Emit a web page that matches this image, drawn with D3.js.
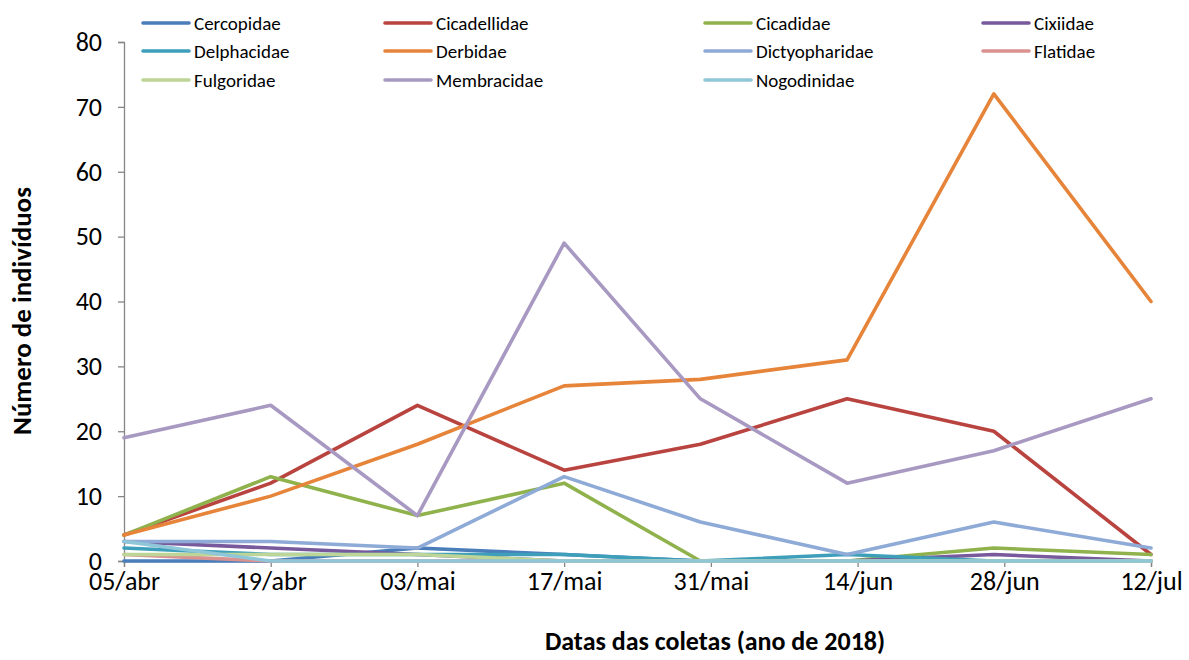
<!DOCTYPE html>
<html>
<head>
    <meta charset="utf-8">
    <title>Número de indivíduos por família</title>
    <script src="https://cdnjs.cloudflare.com/ajax/libs/d3/7.8.5/d3.min.js"></script>
    <style>
        body { margin: 0; background: #fff; }
        text { font-family: Carlito, Calibri, Lato, sans-serif; fill: #000; }
    </style>
</head>
<body>
    <div id="chart"></div>
    <script>
        // collection dates (actual) and axis tick dates / labels
        const dates = ['2018-04-05', '2018-04-19', '2018-05-03', '2018-05-17', '2018-05-30', '2018-06-13', '2018-06-27', '2018-07-12'];
        const tickDates = ['2018-04-05', '2018-04-19', '2018-05-03', '2018-05-17', '2018-05-31', '2018-06-14', '2018-06-28', '2018-07-12'];
        const tickLabels = ['05/abr', '19/abr', '03/mai', '17/mai', '31/mai', '14/jun', '28/jun', '12/jul'];
        const yTicks = [0, 10, 20, 30, 40, 50, 60, 70, 80];

        const families = ['Cercopidae', 'Cicadellidae', 'Cicadidae', 'Cixiidae', 'Delphacidae', 'Derbidae',
                          'Dictyopharidae', 'Flatidae', 'Fulgoridae', 'Membracidae', 'Nogodinidae'];

        const cercopidae     = [0, 0, 2, 1, 0, 0, 0, 0];
        const cicadellidae   = [4, 12, 24, 14, 18, 25, 20, 1];
        const cicadidae      = [4, 13, 7, 12, 0, 0, 2, 1];
        const cixiidae       = [3, 2, 1, 0, 0, 0, 1, 0];
        const delphacidae    = [2, 1, 1, 1, 0, 1, 0, 0];
        const derbidae       = [4, 10, 18, 27, 28, 31, 72, 40];
        const dictyopharidae = [3, 3, 2, 13, 6, 1, 6, 2];
        const flatidae       = [1, 0, 0, 0, 0, 0, 0, 0];
        const fulgoridae     = [1, 1, 1, 0, 0, 0, 0, 0];
        const membracidae    = [19, 24, 7, 49, 25, 12, 17, 25];
        const nogodinidae    = [3, 0, 0, 0, 0, 0, 0, 0];

        const values = [cercopidae, cicadellidae, cicadidae, cixiidae, delphacidae, derbidae,
                        dictyopharidae, flatidae, fulgoridae, membracidae, nogodinidae];

        const colors = ['#4a7ebb', '#b8433f', '#8fb24c', '#77599c', '#3e9fba', '#e6843a',
                        '#8eaad6', '#d99290', '#bdd597', '#a899c2', '#8fc6d8'];

        const W = 1189, H = 660;
        const plot = {left: 124, right: 1151, top: 42, bottom: 561};
        const FONT = 'Carlito, Calibri, Lato, sans-serif';

        const parse = d3.timeParse('%Y-%m-%d');

        const svg = d3.select('#chart')
            .append('svg')
            .attr('width', W)
            .attr('height', H);

        const x = d3.scaleTime()
            .domain([parse(tickDates[0]), parse(tickDates[tickDates.length - 1])])
            .range([plot.left, plot.right]);

        const y = d3.scaleLinear()
            .domain([0, 80])
            .range([plot.bottom, plot.top]);

        // Y axis
        const yAxis = svg.append('g')
            .attr('transform', `translate(${plot.left},0)`)
            .call(d3.axisLeft(y).tickValues(yTicks).tickSize(6).tickPadding(16));
        yAxis.select('.domain').attr('stroke', '#868686').attr('stroke-width', 1.3);
        yAxis.selectAll('.tick line').attr('stroke', '#868686').attr('stroke-width', 1.3);
        yAxis.selectAll('.tick text')
            .style('font-size', '26px')
            .style('font-family', FONT)
            .attr('fill', '#000');

        // X axis
        const xAxis = svg.append('g')
            .attr('transform', `translate(0,${plot.bottom})`)
            .call(d3.axisBottom(x)
                .tickValues(tickDates.map(parse))
                .tickFormat((d, i) => tickLabels[i])
                .tickSize(6)
                .tickPadding(5));
        xAxis.select('.domain').attr('stroke', '#868686').attr('stroke-width', 1.3);
        xAxis.selectAll('.tick line').attr('stroke', '#868686').attr('stroke-width', 1.3);
        xAxis.selectAll('.tick text')
            .style('font-size', '26px')
            .style('font-family', FONT)
            .attr('fill', '#000');

        // Lines
        const line = d3.line()
            .x((d, i) => x(parse(dates[i])))
            .y(d => y(d));

        values.forEach((vals, k) => {
            svg.append('path')
                .datum(vals)
                .attr('d', line)
                .attr('fill', 'none')
                .attr('stroke', colors[k])
                .attr('stroke-width', 3.6)
                .attr('stroke-linejoin', 'round')
                .attr('stroke-linecap', 'round');
        });

        // Legend (4 columns)
        const legendCols = [143, 385, 705, 983];
        const legendRows = [23, 51, 80];
        const legend = svg.append('g');
        families.forEach((name, i) => {
            const cx = legendCols[i % 4];
            const cy = legendRows[Math.floor(i / 4)];
            legend.append('line')
                .attr('x1', cx).attr('x2', cx + 46)
                .attr('y1', cy).attr('y2', cy)
                .attr('stroke', colors[i])
                .attr('stroke-width', 3.6)
                .attr('stroke-linecap', 'round');
            legend.append('text')
                .attr('x', cx + 51)
                .attr('y', cy)
                .attr('dy', '0.35em')
                .style('font-size', '19px')
                .text(name);
        });

        // Axis titles
        svg.append('text')
            .attr('x', 715)
            .attr('y', 650)
            .attr('text-anchor', 'middle')
            .style('font-size', '26px')
            .style('font-weight', 'bold')
            .text('Datas das coletas (ano de 2018)');

        svg.append('text')
            .attr('transform', 'translate(31,311) rotate(-90)')
            .attr('text-anchor', 'middle')
            .style('font-size', '27px')
            .style('font-weight', 'bold')
            .text('Número de indivíduos');
    </script>
</body>
</html>
